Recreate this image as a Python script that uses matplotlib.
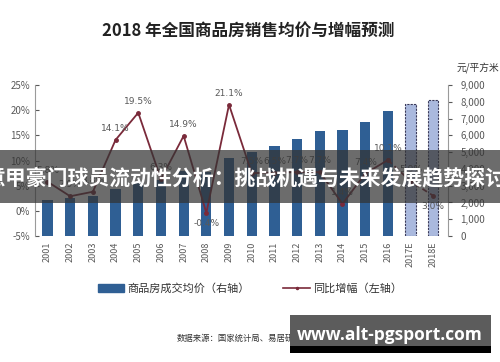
import matplotlib
matplotlib.use("Agg")
import matplotlib.pyplot as plt
from matplotlib.patches import Rectangle, Patch
from matplotlib.lines import Line2D

plt.rcParams['font.family'] = ['Noto Sans CJK SC', 'DejaVu Sans']

years = ["2001", "2002", "2003", "2004", "2005", "2006", "2007", "2008", "2009",
         "2010", "2011", "2012", "2013", "2014", "2015", "2016", "2017E", "2018E"]
avg_price = [2170, 2250, 2359, 2778, 3168, 3367, 3864, 3800, 4681,
             5032, 5357, 5791, 6237, 6324, 6793, 7476, 7900, 8130]
growth = [5.8, 2.9, 3.8, 14.1, 19.5, 6.3, 14.9, -0.4, 21.1,
          7.5, 7.6, 7.7, 7.7, 1.4, 7.4, 10.1, 5.9, 3.0]
growth_labels = ["5.8%", "2.9%", "3.8%", "14.1%", "19.5%", "6.3%", "14.9%", "-0.4%", "21.1%",
                 "7.5%", "6.5%", "7.7%", "7.7%", "1.4%", "7.4%", "10.1%", "5.9%", "3.0%"]
n_actual = 16  # the last two years are estimates

bar_dark = "#2f5f94"
bar_light = "#aab9de"
line_col = "#7a2a3a"
tick_col = "#595959"

fig = plt.figure(figsize=(5, 3.62), dpi=100)
ax = fig.add_axes([0.07, 0.348, 0.826, 0.417])
ax2 = ax.twinx()

x = list(range(len(years)))
ax2.bar(x[:n_actual], avg_price[:n_actual], width=0.45, color=bar_dark, zorder=2)
ax2.bar(x[n_actual:], avg_price[n_actual:], width=0.45, color=bar_light,
        edgecolor="#3a3a5a", linestyle=(0, (2, 1)), linewidth=0.8, zorder=2)

# growth line on top of bars
ax.set_zorder(ax2.get_zorder() + 1)
ax.patch.set_visible(False)
ax.plot(x[:n_actual], growth[:n_actual], color=line_col, lw=1.3, marker="o", ms=2.5)
ax.plot(x[n_actual - 1:], growth[n_actual - 1:], color=line_col, lw=1.3,
        ls=(0, (3, 2)), marker="o", ms=2.5)
for i, (g, lab) in enumerate(zip(growth, growth_labels)):
    below = i in (7, 17)
    ax.annotate(lab, (i, g), xytext=(0, -11 if below else 5), textcoords="offset points",
                ha="center", va="bottom", fontsize=6.5, color=tick_col, family="DejaVu Sans")

ax.set_ylim(-5, 25)
ax.set_yticks(range(-5, 26, 5))
ax.set_yticklabels([f"{v}%" for v in range(-5, 26, 5)])
ax2.set_ylim(0, 9000)
ax2.set_yticks(range(0, 9001, 1000))
ax2.set_yticklabels([f"{v:,}" for v in range(0, 9001, 1000)])
ax.set_xlim(-0.55, 17.65)
ax.set_xticks(x)
ax.set_xticklabels(years, rotation=90, fontsize=6.5, color=tick_col)
ax.tick_params(axis="x", length=0, pad=4)

for a in (ax, ax2):
    a.spines["top"].set_visible(False)
    a.spines["bottom"].set_visible(False)
    a.spines["left"].set_color("#9a9a9a")
    a.spines["right"].set_color("#9a9a9a")
    a.tick_params(axis="y", labelsize=7, colors=tick_col, length=3, direction="in")
ax2.spines["left"].set_visible(False)
ax.spines["right"].set_visible(False)
ax2.tick_params(axis="y", direction="out", pad=6)

fig.text(0.496, 0.915, "2018 年全国商品房销售均价与增幅预测", ha="center", va="center",
         fontsize=12, fontweight="bold", color="#222222")
fig.text(0.998, 0.812, "元/平方米", ha="right", va="center", fontsize=7, color="#333333")

handles = [Patch(color=bar_dark), Line2D([], [], color=line_col, lw=1.2, marker="o", ms=1.5)]
fig.legend(handles, ["商品房成交均价（右轴）", "同比增幅（左轴）"], loc="center",
           bbox_to_anchor=(0.5, 0.204), ncol=2, frameon=False, fontsize=8,
           handlelength=2.4, handletextpad=0.3, columnspacing=3.0, labelcolor="#333333")

fig.text(0.354, 0.066, "数据来源：国家统计局、易居研究院", ha="left", va="center",
         fontsize=6, color="#333333")

# overlay banners
fig.patches.append(Rectangle((0, 0.439), 1, 0.147, transform=fig.transFigure,
                             facecolor="#333333", alpha=0.72, zorder=5))
fig.text(0.49, 0.508, "意甲豪门球员流动性分析：挑战机遇与未来发展趋势探讨", ha="center",
         va="center", fontsize=15, fontweight="bold", color="white", zorder=6)
fig.patches.append(Rectangle((0.58, 0.025), 0.402, 0.105, transform=fig.transFigure,
                             facecolor="#5c5c5c", zorder=5))
fig.patches.append(Rectangle((0.58, 0.025), 0.402, 0.02, transform=fig.transFigure,
                             facecolor="#000000", zorder=5))
fig.text(0.78, 0.074, "www.alt-pgsport.com", ha="center", va="center", fontsize=12.5,
         fontweight="bold", color="white", family="Open Sans", zorder=6)

fig.savefig("out.png", dpi=100)
